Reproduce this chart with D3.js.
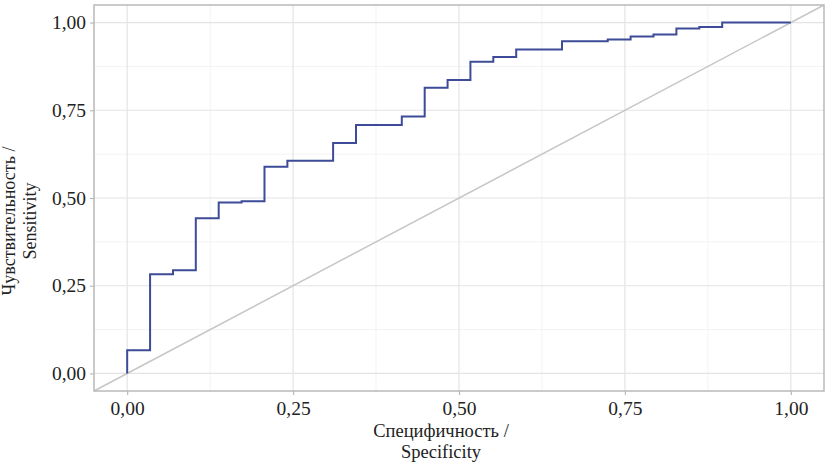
<!DOCTYPE html>
<html>
<head>
<meta charset="utf-8">
<script src="https://cdn.jsdelivr.net/npm/d3@7"></script>
<style>
  body { margin: 0; background: #fff; }
</style>
</head>
<body>
<svg id="root" width="832" height="462"></svg>
<script>
const width = 832
const height = 462

// ROC curve: 1 - specificity (x) and sensitivity (y) after each step
const fpr = [0, 0, 0.0345, 0.069, 0.1034, 0.1379, 0.1724, 0.2069, 0.2414, 0.3103, 0.3448,
  0.4138, 0.4483, 0.4828, 0.5172, 0.5517, 0.5862, 0.6552, 0.7241, 0.7586, 0.7931,
  0.8276, 0.8621, 0.8966, 1]
const tpr = [0, 0.066, 0.283, 0.294, 0.442, 0.487, 0.491, 0.589, 0.606, 0.657, 0.708,
  0.732, 0.814, 0.836, 0.888, 0.902, 0.923, 0.947, 0.952, 0.96, 0.966,
  0.983, 0.987, 1, 1]

const majorTicks = [0, 0.25, 0.5, 0.75, 1]
const minorTicks = [0.125, 0.375, 0.625, 0.875]
const xTitle = ['Специфичность /', 'Specificity']
const yTitle = ['Чувствительность /', 'Sensitivity']

const panel = { left: 94, right: 824, top: 5, bottom: 391 }
const serif = '"Liberation Serif", "Times New Roman", serif'

const svg = d3.select('#root')

const xScale = d3.scaleLinear().domain([-0.05, 1.05]).range([panel.left, panel.right])
const yScale = d3.scaleLinear().domain([-0.05, 1.05]).range([panel.bottom, panel.top])

const fmt = d => d3.format('.2f')(d).replace('.', ',')

// grid
const grid = svg.append('g')
grid.selectAll('line.minor-x').data(minorTicks).enter().append('line')
  .attr('x1', d => xScale(d)).attr('x2', d => xScale(d))
  .attr('y1', panel.top).attr('y2', panel.bottom)
  .attr('stroke', '#f3f3f3').attr('stroke-width', 1)
grid.selectAll('line.minor-y').data(minorTicks).enter().append('line')
  .attr('y1', d => yScale(d)).attr('y2', d => yScale(d))
  .attr('x1', panel.left).attr('x2', panel.right)
  .attr('stroke', '#f3f3f3').attr('stroke-width', 1)
grid.selectAll('line.major-x').data(majorTicks).enter().append('line')
  .attr('x1', d => xScale(d)).attr('x2', d => xScale(d))
  .attr('y1', panel.top).attr('y2', panel.bottom)
  .attr('stroke', '#e4e4e4').attr('stroke-width', 1.2)
grid.selectAll('line.major-y').data(majorTicks).enter().append('line')
  .attr('y1', d => yScale(d)).attr('y2', d => yScale(d))
  .attr('x1', panel.left).attr('x2', panel.right)
  .attr('stroke', '#e4e4e4').attr('stroke-width', 1.2)

// reference diagonal
svg.append('line')
  .attr('x1', xScale(-0.05)).attr('y1', yScale(-0.05))
  .attr('x2', xScale(1.05)).attr('y2', yScale(1.05))
  .attr('stroke', '#c6c6c6').attr('stroke-width', 1.5)

// ROC step line
const line = d3.line()
  .x((d, i) => xScale(fpr[i]))
  .y((d, i) => yScale(tpr[i]))
  .curve(d3.curveStepAfter)

svg.append('path')
  .datum(fpr)
  .attr('d', line)
  .attr('fill', 'none')
  .attr('stroke', '#3d4b98')
  .attr('stroke-width', 2)

// panel border
svg.append('rect')
  .attr('x', panel.left).attr('y', panel.top)
  .attr('width', panel.right - panel.left).attr('height', panel.bottom - panel.top)
  .attr('fill', 'none').attr('stroke', '#b9b9b9').attr('stroke-width', 1.5)

// axes
const xAxis = d3.axisBottom(xScale).tickValues(majorTicks).tickFormat(fmt).tickSize(4).tickPadding(6)
const yAxis = d3.axisLeft(yScale).tickValues(majorTicks).tickFormat(fmt).tickSize(4).tickPadding(4)

const gx = svg.append('g')
  .attr('transform', `translate(0, ${panel.bottom})`)
  .call(xAxis)
const gy = svg.append('g')
  .attr('transform', `translate(${panel.left}, 0)`)
  .call(yAxis)

for (const g of [gx, gy]) {
  g.attr('font-family', null).attr('font-size', null)
  g.select('.domain').remove()
  g.selectAll('line').attr('stroke', '#b9b9b9').attr('stroke-width', 1.2)
  g.selectAll('text')
    .style('font-family', serif)
    .style('font-size', '19.5px')
    .attr('fill', '#222')
}

// titles
svg.append('g').selectAll('text').data(xTitle).enter().append('text')
  .attr('x', 441)
  .attr('y', (d, i) => 437 + i * 21)
  .attr('text-anchor', 'middle')
  .attr('fill', '#222')
  .style('font-family', serif)
  .style('font-size', '18.5px')
  .text(d => d)

svg.append('g').selectAll('text').data(yTitle).enter().append('text')
  .attr('transform', (d, i) => `translate(${15 + i * 21}, 221) rotate(-90)`)
  .attr('text-anchor', 'middle')
  .attr('fill', '#222')
  .style('font-family', serif)
  .style('font-size', '18px')
  .text(d => d)
</script>
</body>
</html>
